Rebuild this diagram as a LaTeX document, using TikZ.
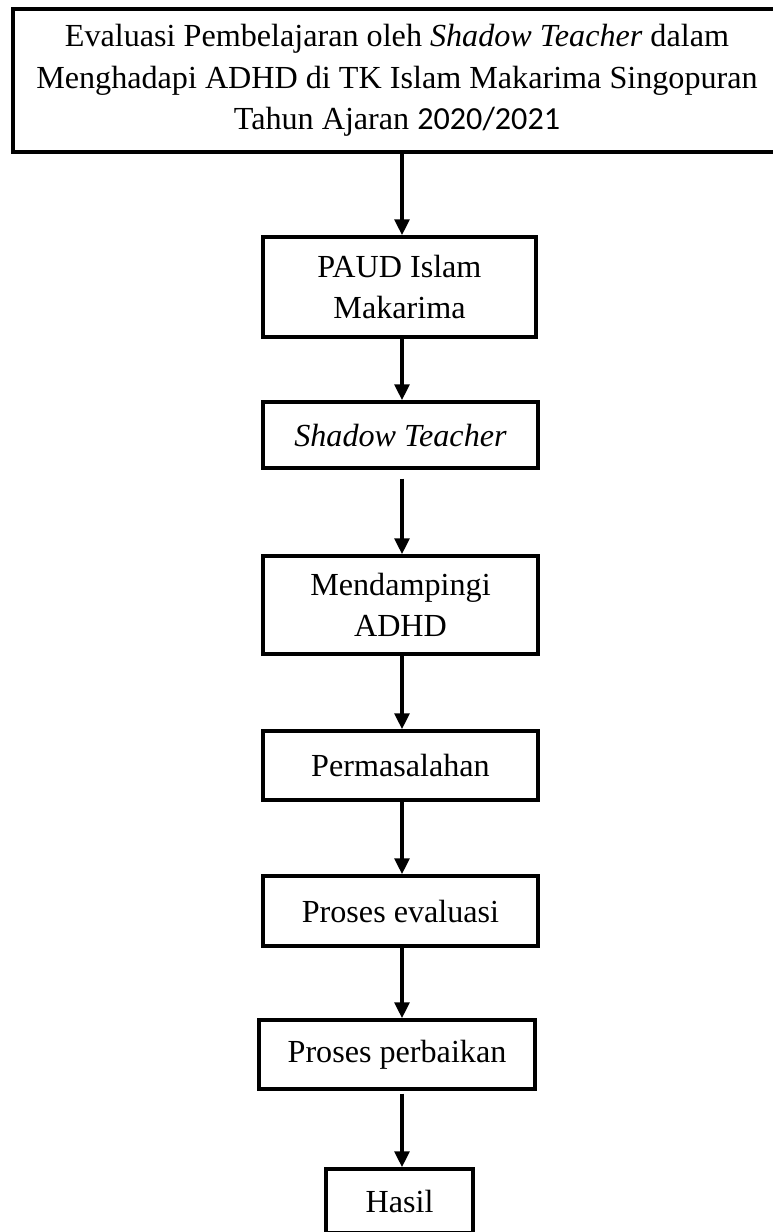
\documentclass[tikz,border=0pt]{standalone}
\usepackage{fontspec}
\setmainfont{Liberation Serif}
\newfontfamily\calib{Carlito}
\usetikzlibrary{arrows.meta}

\begin{document}
\begin{tikzpicture}[x=0.02cm,y=-0.02cm]
    \tikzset{Box/.style = {draw, line width=1.9pt, align=center, inner sep=0pt,
        font=\fontsize{18.3}{23.5}\selectfont}}
    \tikzset{Arrow/.style = {line width=2.6pt, -{Triangle[length=0.32cm,width=0.29cm]}}}
    \clip (0,0) rectangle (773,1232);

    \node[Box, minimum width=15.36cm, minimum height=2.86cm] (judul) at (397,80.5)
        {Evaluasi Pembelajaran oleh \textit{Shadow Teacher} dalam\\
         Menghadapi ADHD di TK Islam Makarima Singopuran\\
         Tahun Ajaran {\calib 2020/2021}};
    \node[Box, minimum width=5.46cm, minimum height=2cm] (paud) at (399.5,287)
        {PAUD Islam\\Makarima};
    \node[Box, minimum width=5.5cm, minimum height=1.32cm] (shadow) at (400.5,435)
        {\textit{Shadow Teacher}};
    \node[Box, minimum width=5.5cm, minimum height=1.96cm] (damping) at (400.5,605)
        {Mendampingi\\ADHD};
    \node[Box, minimum width=5.5cm, minimum height=1.38cm] (masalah) at (400.5,765.5)
        {Permasalahan};
    \node[Box, minimum width=5.5cm, minimum height=1.4cm] (evaluasi) at (400.5,911)
        {Proses evaluasi};
    \node[Box, minimum width=5.52cm, minimum height=1.38cm] (perbaikan) at (397,1054.5)
        {Proses perbaikan};
    \node[Box, minimum width=2.94cm, minimum height=1.28cm] (hasil) at (399.5,1201)
        {Hasil};

    \coordinate (ax) at (402,0);
    \draw[Arrow] (judul.south -| ax) -- (paud.north -| ax);
    \draw[Arrow] (paud.south -| ax) -- (shadow.north -| ax);
    \draw[Arrow, shorten <=0.18cm] (shadow.south -| ax) -- (damping.north -| ax);
    \draw[Arrow] (damping.south -| ax) -- (masalah.north -| ax);
    \draw[Arrow] (masalah.south -| ax) -- (evaluasi.north -| ax);
    \draw[Arrow] (evaluasi.south -| ax) -- (perbaikan.north -| ax);
    \draw[Arrow, shorten <=0.06cm] (perbaikan.south -| ax) -- (hasil.north -| ax);
\end{tikzpicture}
\end{document}
